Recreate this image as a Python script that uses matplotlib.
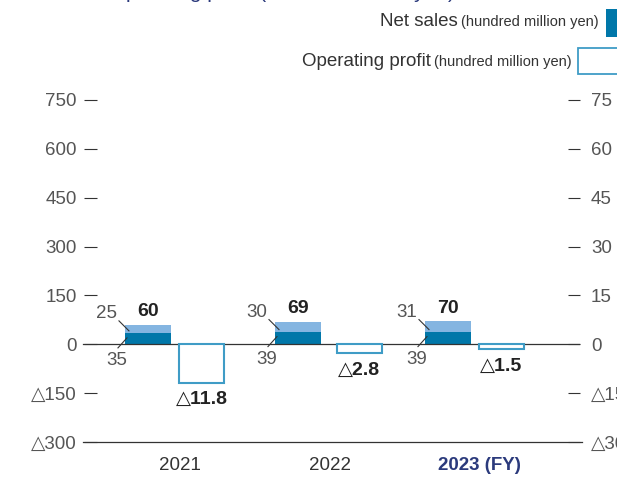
import matplotlib
matplotlib.use("Agg")
import matplotlib.pyplot as plt
from matplotlib.patches import Rectangle

plt.rcParams['font.family'] = ['Liberation Sans', 'DejaVu Sans']

# data (hundred million yen)
years = ["2021", "2022", "2023 (FY)"]
sales_lower = [35, 39, 39]
sales_upper = [25, 30, 31]
sales_total = [60, 69, 70]
op_profit = [-11.8, -2.8, -1.5]

left_ticks = [750, 600, 450, 300, 150, 0, -150, -300]
right_ticks = [75, 60, 45, 30, 15, 0, -15, -30]

c_dark = "#0077a9"
c_light = "#84b5e1"
c_edge = "#3f9cc6"
c_text = "#333333"
c_tick = "#555555"
c_navy = "#2b3a7c"


def fmt(v):
    # negative numbers are written with a triangle in japanese reports
    s = ("%g" % abs(v))
    return ("\u25b3" + s) if v < 0 else s


W, H = 617, 484
fig = plt.figure(figsize=(W / 100, H / 100), dpi=100)

# axes in pixel layout
x0, x1 = 97, 568
y_top, y_bot = 100, 442
ax = fig.add_axes([x0 / W, 1 - y_bot / H, (x1 - x0) / W, (y_bot - y_top) / H])
ax.set_xlim(-0.34, 2.8)
ax.set_ylim(-300, 750)
for s in ax.spines.values():
    s.set_visible(False)

ax2 = ax.twinx()
ax2.set_ylim(-30, 75)
for s in ax2.spines.values():
    s.set_visible(False)

ax.set_yticks(left_ticks)
ax.set_yticklabels([fmt(t) for t in left_ticks])
ax.tick_params(axis='y', length=9.5, width=0.8, color=c_text, pad=5,
               labelsize=13.5, labelcolor=c_tick)
ax2.set_yticks(right_ticks)
ax2.set_yticklabels([fmt(t) for t in right_ticks])
ax2.tick_params(axis='y', length=8.5, width=0.8, color=c_text, pad=8,
                labelsize=13.5, labelcolor=c_tick)

idx = list(range(len(years)))
bw = 0.307
pw = 0.3
profit_x = [i + 0.357 for i in idx]
profit_x[1] += 0.05

# sales: stacked bars
ax.bar(idx, sales_lower, bw, color=c_dark, zorder=2)
ax.bar(idx, sales_upper, bw, bottom=sales_lower, color=c_light, zorder=2)

# operating profit on right axis, hollow bars
ax2.bar(profit_x, op_profit, pw, facecolor="white", edgecolor=c_edge,
        linewidth=1.5, zorder=2)

# zero and bottom lines, running a bit past the axes
ax.plot([-0.43, 2.87], [0, 0], color=c_text, lw=0.9, clip_on=False, zorder=3)
ax.plot([-0.43, 2.89], [-300, -300], color=c_text, lw=0.9, clip_on=False, zorder=3)

# year labels
ax.set_xticks([i + 0.21 for i in idx])
ax.set_xticklabels(years)
ax.tick_params(axis='x', length=0, pad=11, labelsize=13.5, labelcolor=c_text)
lbl = ax.get_xticklabels()[-1]
lbl.set_color(c_navy)
lbl.set_fontweight('bold')

py = 1 / 0.3257  # y data units per pixel
px = 1 / 150.0   # x data units per pixel
for i in idx:
    left = i - bw / 2
    b = sales_lower[i]
    ax.annotate(str(sales_total[i]), (i, sales_total[i]), xytext=(0, 13),
                textcoords='offset pixels', ha='center', va='center',
                fontsize=14, fontweight='bold', color="#222222")
    ax.annotate(str(sales_upper[i]), (left, b), xytext=(-18, 19),
                textcoords='offset pixels', ha='center', va='center',
                fontsize=13.5, color=c_tick)
    ax.annotate(str(sales_lower[i]), (left, b), xytext=(-8, -28),
                textcoords='offset pixels', ha='center', va='center',
                fontsize=13.5, color=c_tick)
    # leader lines
    ax.plot([left - 6 * px, left + 4 * px], [b + 12 * py, b + 2 * py],
            color=c_text, lw=0.8, zorder=4)
    ax.plot([left - 7 * px, left + 2 * px], [b - 15 * py, b - 5 * py],
            color=c_text, lw=0.8, zorder=4)
    ax2.annotate(fmt(op_profit[i]), (profit_x[i], op_profit[i]), xytext=(0, -17),
                 textcoords='offset pixels', ha='center', va='center',
                 fontsize=14, fontweight='bold', color="#222222")

# legend, drawn by hand at top right
fig.text(458 / W, 1 - 21 / H, "Net sales", ha='right', va='center',
         fontsize=13.5, color=c_text)
fig.text(461 / W, 1 - 22 / H, "(hundred million yen)", ha='left', va='center',
         fontsize=10.5, color=c_text)
fig.text(431 / W, 1 - 61 / H, "Operating profit", ha='right', va='center',
         fontsize=13.5, color=c_text)
fig.text(434 / W, 1 - 62 / H, "(hundred million yen)", ha='left', va='center',
         fontsize=10.5, color=c_text)
fig.patches.append(Rectangle((606 / W, 1 - 37 / H), 30 / W, 28 / H,
                             transform=fig.transFigure, facecolor=c_dark,
                             edgecolor="none"))
fig.patches.append(Rectangle((578 / W, 1 - 74 / H), 60 / W, 26 / H,
                             transform=fig.transFigure, facecolor="white",
                             edgecolor=c_edge, lw=1.3))

# title sits above the crop, only its descenders show
fig.text(10 / W, 1 + 2 / H, "Net sales / operating profit (hundred million yen)",
         ha='left', va='baseline', fontsize=15, color=c_navy)

fig.savefig("out.png", dpi=100)
